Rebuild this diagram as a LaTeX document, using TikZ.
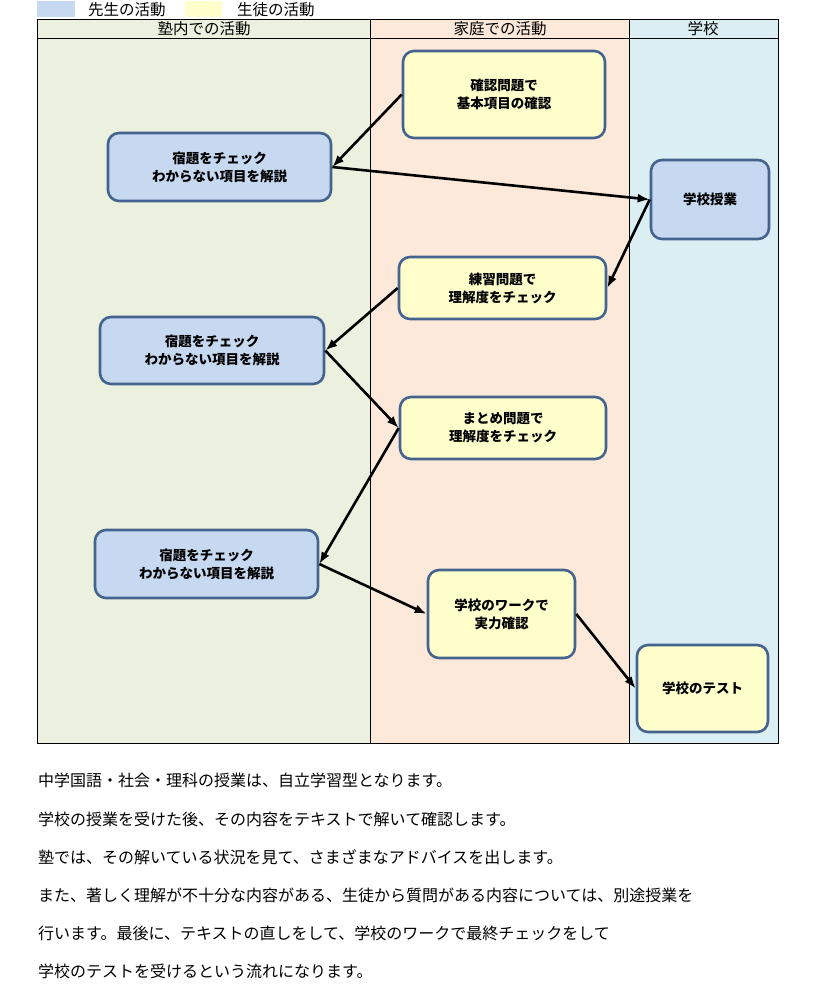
\documentclass[tikz,border=0pt]{standalone}
\usepackage{fontspec}
\setmainfont{Noto Sans CJK JP}
\usetikzlibrary{arrows.meta}
\definecolor{bgjuku}{HTML}{EBF1DE}
\definecolor{bghome}{HTML}{FDE9D9}
\definecolor{bgschool}{HTML}{DBEEF3}
\definecolor{teacher}{HTML}{C6D9F1}
\definecolor{student}{HTML}{FFFFCC}
\definecolor{boxline}{HTML}{44638F}
\tikzset{
  actbox/.style={draw=boxline, line width=2.6pt, rounded corners=11pt, align=center,
    font=\fontsize{13.5}{18}\selectfont\bfseries, inner sep=0pt},
  tbox/.style={actbox, fill=teacher},
  sbox/.style={actbox, fill=student},
  flow/.style={-{Latex[length=12pt,width=9pt]}, line width=2.6pt, black},
  hdr/.style={font=\fontsize{15.5}{18}\selectfont, inner sep=0pt},
  body/.style={font=\fontsize{16}{18}\selectfont, anchor=west, inner sep=0pt}
}
\begin{document}
\begin{tikzpicture}[x=1pt,y=-1pt]
\useasboundingbox (0,0) rectangle (815,1004);
\fill[white] (0,0) rectangle (815,1004);
% legend
\fill[teacher] (37,1) rectangle (75,17);
\node[hdr, anchor=west] (lg1) at (88,10) {先生の活動};
\fill[student] (185,1) rectangle (222,17);
\node[hdr, anchor=west] (lg2) at (237,10) {生徒の活動};
% lanes
\fill[bgjuku] (37,19) rectangle (370,743);
\fill[bghome] (370,19) rectangle (629,743);
\fill[bgschool] (629,19) rectangle (778,743);
\draw[line width=0.8pt] (37,19) rectangle (778,743);
\draw[line width=0.8pt] (37,38) -- (778,38);
\draw[line width=0.8pt] (370,19) -- (370,743);
\draw[line width=0.8pt] (629,19) -- (629,743);
\node[hdr] (h1) at (204,28.5) {塾内での活動};
\node[hdr] (h2) at (500,28.5) {家庭での活動};
\node[hdr] (h3) at (703,28.5) {学校};
% nodes
\node[sbox, minimum width=202pt, minimum height=87pt] (n1) at (504,94.5) {確認問題で\\基本項目の確認};
\node[tbox, minimum width=223pt, minimum height=68pt] (a1) at (219.5,167) {宿題をチェック\\わからない項目を解説};
\node[tbox, minimum width=118pt, minimum height=79pt] (jg) at (710,199.5) {学校授業};
\node[sbox, minimum width=207pt, minimum height=62pt] (n2) at (502.5,288) {練習問題で\\理解度をチェック};
\node[tbox, minimum width=224pt, minimum height=67pt] (a2) at (212,350.5) {宿題をチェック\\わからない項目を解説};
\node[sbox, minimum width=206pt, minimum height=62pt] (n3) at (503,428) {まとめ問題で\\理解度をチェック};
\node[tbox, minimum width=223pt, minimum height=68pt] (a3) at (206.5,564) {宿題をチェック\\わからない項目を解説};
\node[sbox, minimum width=147pt, minimum height=88pt] (n4) at (501.5,614) {学校のワークで\\実力確認};
\node[sbox, minimum width=131pt, minimum height=87pt] (ts) at (702.5,688.5) {学校のテスト};
% connectors
\draw[flow] (n1.west) -- (a1.east);
\draw[flow] (a1.east) -- (jg.west);
\draw[flow] (jg.west) -- (n2.east);
\draw[flow] (n2.west) -- (a2.east);
\draw[flow] (a2.east) -- (n3.west);
\draw[flow] (n3.west) -- (a3.east);
\draw[flow] (a3.east) -- (n4.west);
\draw[flow] (n4.east) -- (ts.west);
% body text
\node[body] (t1) at (38,780) {中学国語・社会・理科の授業は、自立学習型となります。};
\node[body] (t2) at (38,819) {学校の授業を受けた後、その内容をテキストで解いて確認します。};
\node[body] (t3) at (38,857) {塾では、その解いている状況を見て、さまざまなアドバイスを出します。};
\node[body] (t4) at (38,895) {また、著しく理解が不十分な内容がある、生徒から質問がある内容については、別途授業を};
\node[body] (t5) at (38,933) {行います。最後に、テキストの直しをして、学校のワークで最終チェックをして};
\node[body] (t6) at (38,971) {学校のテストを受けるという流れになります。};
\end{tikzpicture}
\end{document}
